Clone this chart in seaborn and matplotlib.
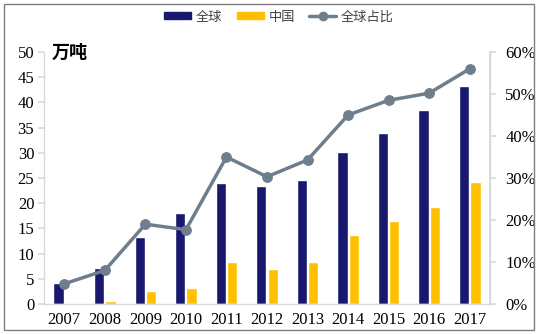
import matplotlib
matplotlib.use("Agg")
import matplotlib.pyplot as plt
import seaborn as sns
import pandas as pd
import numpy as np
from matplotlib.patches import Rectangle
from matplotlib.lines import Line2D
from matplotlib.patches import Patch

years = ["2007", "2008", "2009", "2010", "2011", "2012", "2013", "2014", "2015", "2016", "2017"]
global_vals = [4.2, 7.2, 13.2, 18.1, 24.0, 23.5, 24.6, 30.2, 34.0, 38.4, 43.2]
china_vals = [0.2, 0.6, 2.5, 3.2, 8.3, 7.0, 8.4, 13.6, 16.5, 19.3, 24.2]
share_pct = [4.8, 8.0, 19.0, 17.7, 35.0, 30.3, 34.3, 45.0, 48.5, 50.2, 56.0]
left_ticks = [0, 5, 10, 15, 20, 25, 30, 35, 40, 45, 50]
right_ticks = [0, 10, 20, 30, 40, 50, 60]

NAVY = "#18186e"
YELLOW = "#ffc000"
GRAY = "#6f7e8c"
SPINE = "#d9d9d9"

sns.set_theme(style="white")
plt.rcParams['font.family'] = ['Liberation Serif', 'Noto Sans CJK SC', 'DejaVu Sans']

CJK = ['Noto Sans CJK SC', 'DejaVu Sans']

df = pd.DataFrame({
    "year": years * 2,
    "value": global_vals + china_vals,
    "series": ["全球"] * len(years) + ["中国"] * len(years),
})

fig = plt.figure(figsize=(5.38, 3.34), dpi=100)
ax = fig.add_axes([44 / 538, 1 - 304 / 334, (490 - 44) / 538, (304 - 52) / 334])

sns.barplot(data=df, x="year", y="value", hue="series", palette=[NAVY, YELLOW],
            ax=ax, width=0.56, gap=0.1, legend=False, saturation=1)

ax.set_ylim(0, 50)
ax.set_xlim(-0.5, len(years) - 0.5)
ax.set_yticks(left_ticks)
ax.set_xlabel("")
ax.set_ylabel("")
ax.tick_params(axis="y", labelsize=12, length=4, color=SPINE, direction="out", pad=3, labelcolor="#000000")
ax.tick_params(axis="x", labelsize=12, length=0, pad=6, labelcolor="#000000")
ax.set_xticks(np.arange(-0.5, len(years), 1), minor=True)
ax.tick_params(axis="x", which="minor", length=4, direction="in", color=SPINE)
ax.spines["top"].set_visible(False)
for s in ["left", "right", "bottom"]:
    ax.spines[s].set_color(SPINE)
    ax.spines[s].set_linewidth(1)

ax2 = ax.twinx()
sns.lineplot(x=np.arange(len(years)), y=share_pct, ax=ax2, color=GRAY, linewidth=2.5,
             marker="o", markersize=7, markeredgecolor=GRAY, legend=False)
ax2.set_ylim(0, 60)
ax2.set_yticks(right_ticks)
ax2.set_yticklabels([f"{t}%" for t in right_ticks])
ax2.tick_params(axis="y", labelsize=12, length=4, color=SPINE, direction="out", pad=7, labelcolor="#000000")
ax2.set_ylabel("")
for s in ["top", "left", "bottom"]:
    ax2.spines[s].set_visible(False)
ax2.spines["right"].set_color(SPINE)

fig.text(52 / 538, 1 - 52 / 334, "万吨", fontsize=13, fontweight="bold",
         family=CJK, va="center", ha="left", color="#000000")

handles = [
    Patch(facecolor=NAVY, edgecolor=NAVY, label="全球"),
    Patch(facecolor=YELLOW, edgecolor=YELLOW, label="中国"),
    Line2D([0], [0], color=GRAY, linewidth=2.5, marker="o", markersize=6, label="全球占比"),
]
leg = fig.legend(handles=handles, loc="center", bbox_to_anchor=(279 / 538, 1 - 17 / 334),
                 ncol=3, frameon=False, handlelength=2.05, handleheight=0.45,
                 columnspacing=1.1, handletextpad=0.35,
                 prop={'family': CJK, 'size': 9.5})
for t in leg.get_texts():
    t.set_color("#404040")

fig.patches.append(Rectangle((4 / 538, 4 / 334), 530 / 538, 326 / 334, transform=fig.transFigure,
                             fill=False, edgecolor="#7f7f7f", linewidth=1))

fig.savefig("out.png", dpi=100)
